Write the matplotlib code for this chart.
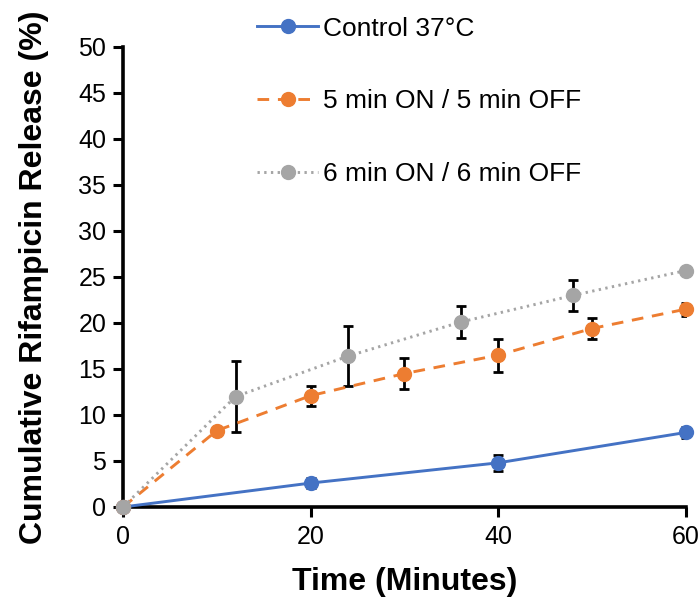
import numpy as np
import matplotlib
matplotlib.use("Agg")
from matplotlib import pyplot as plt

plt.rcParams["font.family"] = ["Liberation Sans", "DejaVu Sans"]

# data
t_control = [0, 20, 40, 60]
y_control = [0, 2.6, 4.8, 8.1]
e_control = [np.nan, 0.5, 0.85, 0.6]

t_5min = [0, 10, 20, 30, 40, 50, 60]
y_5min = [0, 8.3, 12.1, 14.5, 16.5, 19.4, 21.5]
e_5min = [np.nan, np.nan, 1.1, 1.65, 1.8, 1.1, 0.7]

t_6min = [0, 12, 24, 36, 48, 60]
y_6min = [0, 12.0, 16.4, 20.1, 23.0, 25.7]
e_6min = [np.nan, 3.9, 3.3, 1.75, 1.65, np.nan]

labels = ["Control 37°C", "5 min ON / 5 min OFF", "6 min ON / 6 min OFF"]
colors = ["#4472C4", "#ED7D31", "#A5A5A5"]
styles = ["-", (0, (4, 3)), (0, (0.8, 1.5))]

fig = plt.figure(figsize=(6.99, 5.99), dpi=100)
ax = fig.add_axes([0.176, 0.1536, 0.805, 0.768])

series = [(t_control, y_control, e_control),
          (t_5min, y_5min, e_5min),
          (t_6min, y_6min, e_6min)]

handles = []
for i, (t, y, e) in enumerate(series):
    h, = ax.plot(t, y, linestyle=styles[i], color=colors[i], lw=2.1,
                 marker="o", markersize=10, markerfacecolor=colors[i],
                 markeredgecolor=colors[i], label=labels[i], zorder=3, clip_on=False)
    ax.errorbar(t, y, yerr=e, fmt="none", ecolor="black", elinewidth=2,
                capsize=3.3, capthick=2, zorder=2)
    handles.append(h)

ax.set_xlim(0, 60)
ax.set_ylim(0, 50)
ax.set_xticks([0, 20, 40, 60])
ax.set_yticks(np.arange(0, 51, 5))

for side in ["top", "right"]:
    ax.spines[side].set_visible(False)
for side in ["left", "bottom"]:
    ax.spines[side].set_linewidth(2.6)

ax.tick_params(axis="both", direction="out", length=7, width=2.2, labelsize=18)
ax.tick_params(axis="x", pad=6)
ax.tick_params(axis="y", pad=5)

ax.set_xlabel("Time (Minutes)", fontsize=23, fontweight="bold", labelpad=13)
ax.set_ylabel("Cumulative Rifampicin Release (%)", fontsize=23, fontweight="bold", labelpad=21)

fig.legend(handles=handles, loc="upper left", bbox_to_anchor=(0.334, 1.012),
           frameon=False, fontsize=19, handlelength=2.3, handletextpad=0.2,
           labelspacing=1.85)

fig.savefig("out.png", dpi=100)
